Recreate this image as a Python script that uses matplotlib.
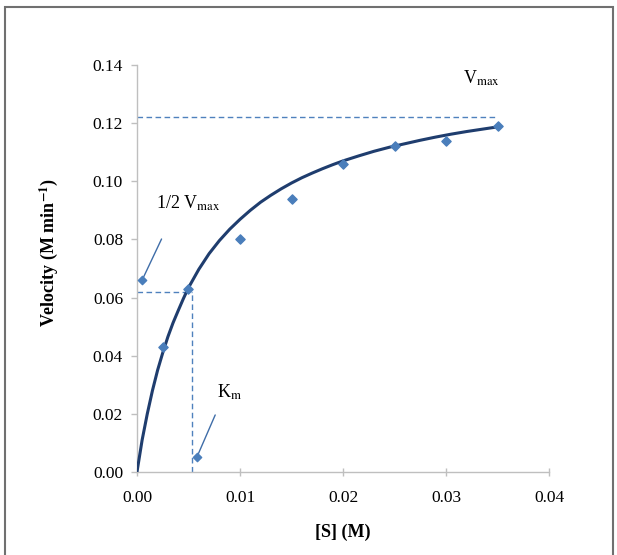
import matplotlib.pyplot as plt
from matplotlib.patches import Rectangle

# measured substrate concentrations and velocities
substrate = [0.0025, 0.005, 0.01, 0.015, 0.02, 0.025, 0.03, 0.035]
velocity = [0.043, 0.063, 0.080, 0.094, 0.106, 0.112, 0.114, 0.119]

# fitted curve
curve_s = [0, 0.0005, 0.001, 0.0015, 0.002, 0.0025, 0.003, 0.0035, 0.004, 0.0045,
           0.005, 0.006, 0.007, 0.008, 0.009, 0.010, 0.011, 0.012, 0.013, 0.014,
           0.015, 0.016, 0.017, 0.018, 0.019, 0.020, 0.0215, 0.023, 0.0245,
           0.026, 0.0275, 0.029, 0.0305, 0.032, 0.0335, 0.035]
curve_v = [0, 0.011, 0.020, 0.028, 0.035, 0.041, 0.0465, 0.0513, 0.0555, 0.0596,
           0.0634, 0.0697, 0.0751, 0.0796, 0.0835, 0.0869, 0.0900, 0.0928, 0.0952,
           0.0974, 0.0994, 0.1012, 0.1028, 0.1043, 0.1057, 0.1070, 0.1087, 0.1103,
           0.1117, 0.1129, 0.1141, 0.1152, 0.1162, 0.1171, 0.1179, 0.1187]

vmax = 0.122
half_vmax = 0.062
km = 0.0053

x_ticks = [0.00, 0.01, 0.02, 0.03, 0.04]
y_ticks = [0.00, 0.02, 0.04, 0.06, 0.08, 0.10, 0.12, 0.14]

plt.rcParams['font.family'] = ['Liberation Serif', 'DejaVu Serif']
plt.rcParams['mathtext.fontset'] = 'stix'

fig = plt.figure(figsize=(6.17, 5.55), dpi=100)
ax = fig.add_axes([0.222, 0.1495, 0.668, 0.7335])

line_col = '#1F3D6E'
pt_col = '#4A7EBB'
dash_col = '#4F81BD'

ax.plot(curve_s, curve_v, color=line_col, lw=2.2, zorder=3)
ax.scatter(substrate, velocity, marker='D', s=22, color=pt_col, zorder=4)

ax.plot([0, 0.035], [vmax, vmax], ls=(0, (4, 2.5)), color=dash_col, lw=1)
ax.plot([0, km], [half_vmax, half_vmax], ls=(0, (4, 2.5)), color=dash_col, lw=1)
ax.plot([km, km], [0, half_vmax], ls=(0, (4, 2.5)), color=dash_col, lw=1)

ax.text(0.0316, 0.1335, r'V$_{\mathrm{max}}$', fontsize=13)
ax.text(0.0018, 0.0905, r'1/2 V$_{\mathrm{max}}$', fontsize=13)
ax.text(0.0078, 0.0255, r'K$_{\mathrm{m}}$', fontsize=13)

arrow = dict(arrowstyle='-', color='#3F6DA8', lw=1)
ax.annotate('', xy=(0.0005, 0.066), xytext=(0.0025, 0.081), arrowprops=arrow)
ax.annotate('', xy=(0.0058, 0.005), xytext=(0.0077, 0.0205), arrowprops=arrow)
ax.scatter([0.0005, 0.0058], [0.066, 0.005], marker='D', s=18, color=pt_col, zorder=4)

ax.set_xlim(0, 0.04)
ax.set_ylim(0, 0.14)
ax.set_xticks(x_ticks)
ax.set_yticks(y_ticks)
ax.set_xticklabels(['%.2f' % v for v in x_ticks], fontsize=12.5)
ax.set_yticklabels(['%.2f' % v for v in y_ticks], fontsize=12.5)
ax.tick_params(length=4, color='#BFBFBF', width=1, pad=6)
ax.tick_params(axis='x', direction='inout', length=6, pad=10)

for side in ['top', 'right']:
    ax.spines[side].set_visible(False)
for side in ['left', 'bottom']:
    ax.spines[side].set_color('#BFBFBF')
    ax.spines[side].set_linewidth(1)

ax.set_xlabel('[S] (M)', fontsize=13, fontweight='bold', labelpad=13)
ax.set_ylabel(r'Velocity (M min$^{\mathbf{-1}}$)', fontsize=13, fontweight='bold')
ax.yaxis.set_label_coords(-0.186, 0.54)

fig.patches.append(Rectangle((0.008, -0.01), 0.986, 0.997, transform=fig.transFigure,
                             fill=False, edgecolor='#707070', lw=1.5))

fig.savefig('out.png', dpi=100)
